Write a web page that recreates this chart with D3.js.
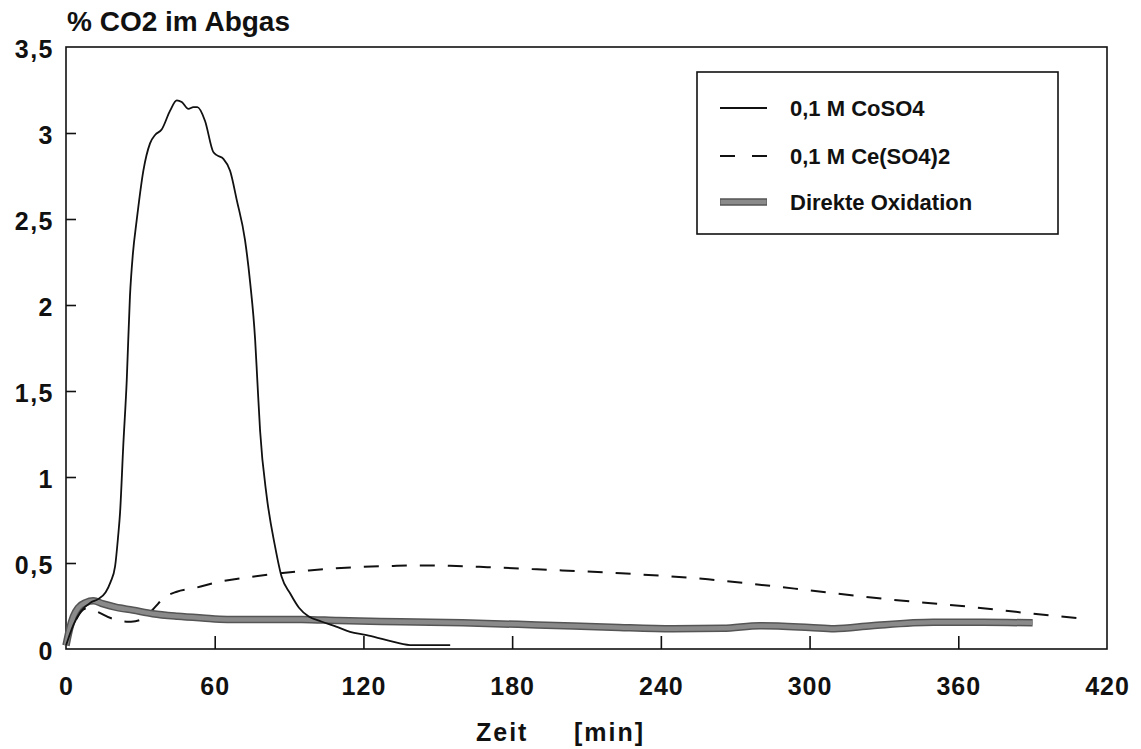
<!DOCTYPE html>
<html>
<head>
<meta charset="utf-8">
<script src="https://cdn.jsdelivr.net/npm/d3@7"></script>
<style>
  body { margin: 0; background: #fff; }
  text { font-family: "Liberation Sans", Arial, sans-serif; font-weight: bold; fill: #111; }
</style>
</head>
<body>
<div id="chart"></div>
<script>
// values
var xTicks = [0, 60, 120, 180, 240, 300, 360, 420];
var yTicks = [0, 0.5, 1, 1.5, 2, 2.5, 3, 3.5];

// 0,1 M CoSO4
var coTime = [0,3,6,10,13,16,18,19.8,21,21.8,23.1,24.5,25.8,27,28.5,31.2,33.9,36,38.6,42,44.7,46.7,49.4,51.4,53,56.1,59.4,61,63.5,66.2,68.9,72.2,74.3,76.3,77.2,78.3,81,84.3,87,90.4,94,97.8,103,109,114.6,121.3,129.4,138.8,155];
var coVal  = [0.02,0.14,0.22,0.27,0.29,0.33,0.39,0.48,0.65,0.79,1.18,1.56,2.05,2.3,2.49,2.78,2.94,2.99,3.02,3.13,3.19,3.18,3.14,3.15,3.15,3.07,2.89,2.87,2.85,2.78,2.61,2.38,2.13,1.8,1.56,1.27,0.885,0.6,0.42,0.324,0.24,0.19,0.16,0.13,0.1,0.081,0.052,0.023,0.023];

// 0,1 M Ce(SO4)2
var ceTime = [0,4,8,12,18,24.5,28,32,36,39.3,44.7,51.4,62,74,86,98,109,120,132,143,155,170,190,224,259,294,329,364,399,411];
var ceVal  = [0.02,0.17,0.235,0.22,0.18,0.159,0.162,0.185,0.245,0.295,0.333,0.353,0.391,0.418,0.44,0.457,0.469,0.478,0.483,0.486,0.484,0.476,0.463,0.44,0.405,0.351,0.293,0.246,0.192,0.176];

// Direkte Oxidation
var dirTime = [0,1.5,3,5,8,11,15,20,27,35,45,55,65,80,95,110,135,160,190,220,245,265,280,300,310,325,350,370,390];
var dirVal  = [0.02,0.12,0.19,0.24,0.27,0.28,0.262,0.243,0.226,0.205,0.19,0.18,0.172,0.172,0.172,0.165,0.158,0.152,0.14,0.127,0.118,0.12,0.135,0.125,0.118,0.135,0.155,0.155,0.152];

var legendLabels = ["0,1 M CoSO4", "0,1 M Ce(SO4)2", "Direkte Oxidation"];

var W = 1141, H = 749;
var plot = {left: 66, right: 1107, top: 47, bottom: 649};

var svg = d3.select("#chart").append("svg")
    .attr("width", W)
    .attr("height", H);

var x = d3.scaleLinear().domain([0, 420]).range([plot.left, plot.right]);
var y = d3.scaleLinear().domain([0, 3.5]).range([plot.bottom, plot.top]);

// frame
svg.append("rect")
    .attr("x", plot.left).attr("y", plot.top)
    .attr("width", plot.right - plot.left).attr("height", plot.bottom - plot.top)
    .attr("fill", "none").attr("stroke", "#111").attr("stroke-width", 1.6);

// x axis, ticks pointing inward
var xAxis = svg.append("g")
    .attr("transform", "translate(0," + plot.bottom + ")")
    .call(d3.axisBottom(x).tickValues(xTicks).tickSize(-13).tickPadding(28));
xAxis.select(".domain").remove();
xAxis.selectAll("line").attr("stroke", "#111").attr("stroke-width", 1.6)
    .attr("opacity", function(d) { return (d == 0 || d == 420) ? 0 : 1; });
xAxis.selectAll("text")
    .style("font-size", "25px").style("letter-spacing", "1px")
    .attr("fill", "#111").attr("font-family", null);

// y axis
var yAxis = svg.append("g")
    .attr("transform", "translate(" + plot.left + ",0)")
    .call(d3.axisLeft(y).tickValues(yTicks).tickSize(-10).tickPadding(12)
        .tickFormat(function(d) { return String(d).replace(".", ","); }));
yAxis.select(".domain").remove();
yAxis.selectAll("line").attr("stroke", "#111").attr("stroke-width", 1.6)
    .attr("opacity", function(d) { return (d == 0 || d == 3.5) ? 0 : 1; });
yAxis.selectAll("text")
    .style("font-size", "25px").style("letter-spacing", "1.5px")
    .attr("dy", "0.42em")
    .attr("fill", "#111").attr("font-family", null);

// titles
svg.append("text")
    .attr("x", 67).attr("y", 31)
    .style("font-size", "28px")
    .text("% CO2 im Abgas");

var xt = svg.append("text")
    .attr("y", 741)
    .style("font-size", "25px").style("letter-spacing", "2px");
xt.append("tspan").attr("x", 476).text("Zeit");
xt.append("tspan").attr("x", 574).text("[min]");

// lines
var line = d3.line()
    .x(function(d) { return x(d[0]); })
    .y(function(d) { return y(d[1]); })
    .curve(d3.curveMonotoneX);

var dirData = dirTime.map(function(t, i) { return [t, dirVal[i]]; });
var ceData = ceTime.map(function(t, i) { return [t, ceVal[i]]; });
var coData = coTime.map(function(t, i) { return [t, coVal[i]]; });

svg.append("path")
    .datum(ceData)
    .attr("fill", "none")
    .attr("stroke", "#111")
    .attr("stroke-width", 2)
    .attr("stroke-dasharray", "15,13")
    .attr("d", line);

svg.append("path")
    .datum(dirData)
    .attr("fill", "none")
    .attr("stroke", "#555")
    .attr("stroke-width", 7.5)
    .attr("d", line);
svg.append("path")
    .datum(dirData)
    .attr("fill", "none")
    .attr("stroke", "#8a8a8a")
    .attr("stroke-width", 4.5)
    .attr("d", line);

svg.append("path")
    .datum(coData)
    .attr("fill", "none")
    .attr("stroke", "#111")
    .attr("stroke-width", 1.8)
    .attr("d", line);

// legend
var lg = svg.append("g");
lg.append("rect")
    .attr("x", 697).attr("y", 72)
    .attr("width", 361).attr("height", 162)
    .attr("fill", "#fff").attr("stroke", "#111").attr("stroke-width", 1.6);

var rowY = [108, 156, 202];
lg.append("line")
    .attr("x1", 720).attr("x2", 767).attr("y1", rowY[0]).attr("y2", rowY[0])
    .attr("stroke", "#111").attr("stroke-width", 1.8);
lg.append("line")
    .attr("x1", 720).attr("x2", 767).attr("y1", rowY[1]).attr("y2", rowY[1])
    .attr("stroke", "#111").attr("stroke-width", 2).attr("stroke-dasharray", "15,17");
lg.append("line")
    .attr("x1", 720).attr("x2", 767).attr("y1", rowY[2]).attr("y2", rowY[2])
    .attr("stroke", "#555").attr("stroke-width", 7.5);
lg.append("line")
    .attr("x1", 720.5).attr("x2", 766.5).attr("y1", rowY[2]).attr("y2", rowY[2])
    .attr("stroke", "#8a8a8a").attr("stroke-width", 4.5);

lg.selectAll("text.lab")
    .data(legendLabels)
    .enter().append("text")
    .attr("class", "lab")
    .attr("x", 790)
    .attr("y", function(d, i) { return rowY[i]; })
    .attr("dy", "0.36em")
    .style("font-size", "22px")
    .text(function(d) { return d; });
</script>
</body>
</html>
